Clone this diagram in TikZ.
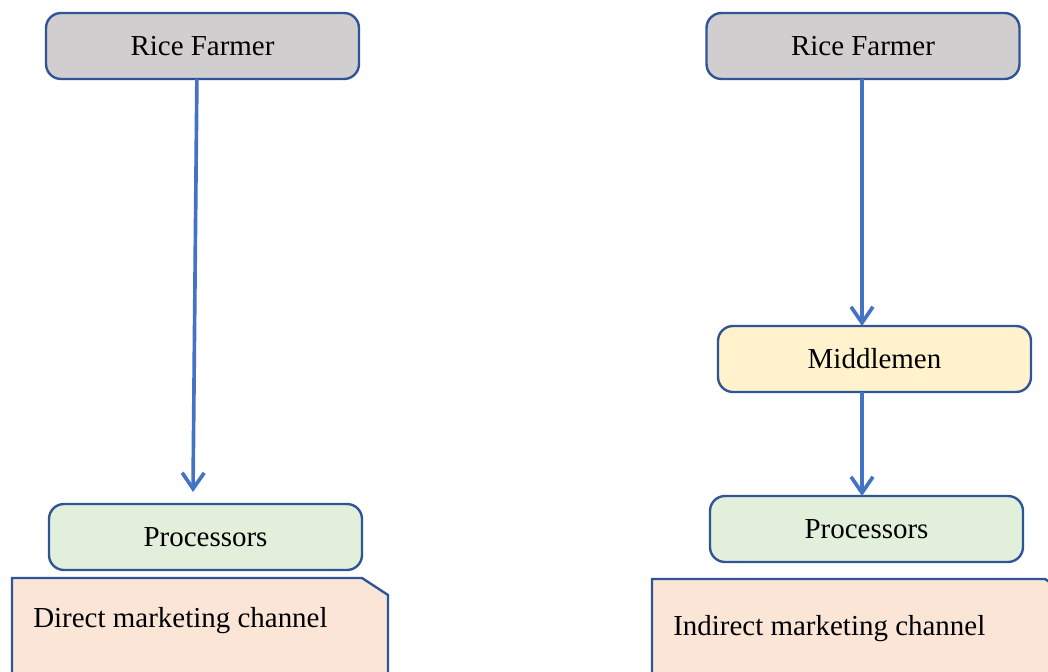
\documentclass[tikz,border=0pt]{standalone}
\usepackage{fontspec}
\setmainfont{Liberation Serif}
\usetikzlibrary{arrows.meta,positioning}
\definecolor{edgeblue}{RGB}{47,85,151}
\definecolor{flowblue}{RGB}{68,114,196}
\definecolor{farmgray}{RGB}{208,206,206}
\definecolor{procgreen}{RGB}{226,239,218}
\definecolor{midyellow}{RGB}{255,242,204}
\definecolor{notepeach}{RGB}{251,229,214}

\begin{document}
\begin{tikzpicture}[font=\fontsize{20.6}{24}\selectfont,
  actor/.style={draw=edgeblue,line width=1.7pt,rounded corners=.375cm,
    minimum width=7.825cm,minimum height=1.65cm,outer sep=0pt},
  notebox/.style={inner sep=0pt,outer sep=0pt,minimum height=3.05cm},
  noteline/.style={draw=edgeblue,fill=notepeach,line width=1.7pt},
  flow/.style={draw=flowblue,line width=2.6pt,
    -{Straight Barb[length=.4cm,width=.55cm]}}]
\useasboundingbox (0,0) rectangle (26.2,-16.8);
\clip (0,0) rectangle (26.2,-16.8);
% direct channel
\node[actor,fill=farmgray] (farmL) at (5.0625,-1.15) {Rice Farmer};
\node[actor,fill=procgreen,below=10.625cm of farmL,xshift=.075cm] (procL) {Processors};
\node[notebox,minimum width=9.4cm,below=.2cm of procL,xshift=-.1375cm] (noteL) {};
\draw[noteline] (noteL.south west) |- ([xshift=-.65cm]noteL.north east)
  -- ([yshift=-.425cm]noteL.north east) -- (noteL.south east) -- cycle;
\node[anchor=base west,inner sep=0pt] (noteLtxt)
  at ([xshift=.525cm,yshift=-1.225cm]noteL.north west) {Direct marketing channel};
\draw[flow] ([xshift=-.14cm]farmL.south) -- ([xshift=-.3125cm,yshift=.3cm]procL.north);
% indirect channel
\node[actor,fill=farmgray] (farmR) at (21.575,-1.15) {Rice Farmer};
\node[actor,fill=midyellow,below=6.175cm of farmR,xshift=.2875cm] (midR) {Middlemen};
\node[actor,fill=procgreen,below=2.6cm of midR,xshift=-.2cm] (procR) {Processors};
\node[notebox,minimum width=10.475cm,below=.425cm of procR,xshift=-.125cm] (noteR) {};
\draw[noteline] (noteR.south west) |- ([xshift=-.65cm]noteR.north east)
  -- ([yshift=-.425cm]noteR.north east) -- (noteR.south east) -- cycle;
\node[anchor=base west,inner sep=0pt] (noteRtxt)
  at ([xshift=.525cm,yshift=-1.4cm]noteR.north west) {Indirect marketing channel};
\draw[flow] ([xshift=-.025cm]farmR.south) -- ([xshift=-.025cm]farmR.south |- midR.north);
\draw[flow] ([xshift=-.025cm]farmR.south |- midR.south) -- ([xshift=-.025cm]farmR.south |- procR.north);
\end{tikzpicture}
\end{document}
